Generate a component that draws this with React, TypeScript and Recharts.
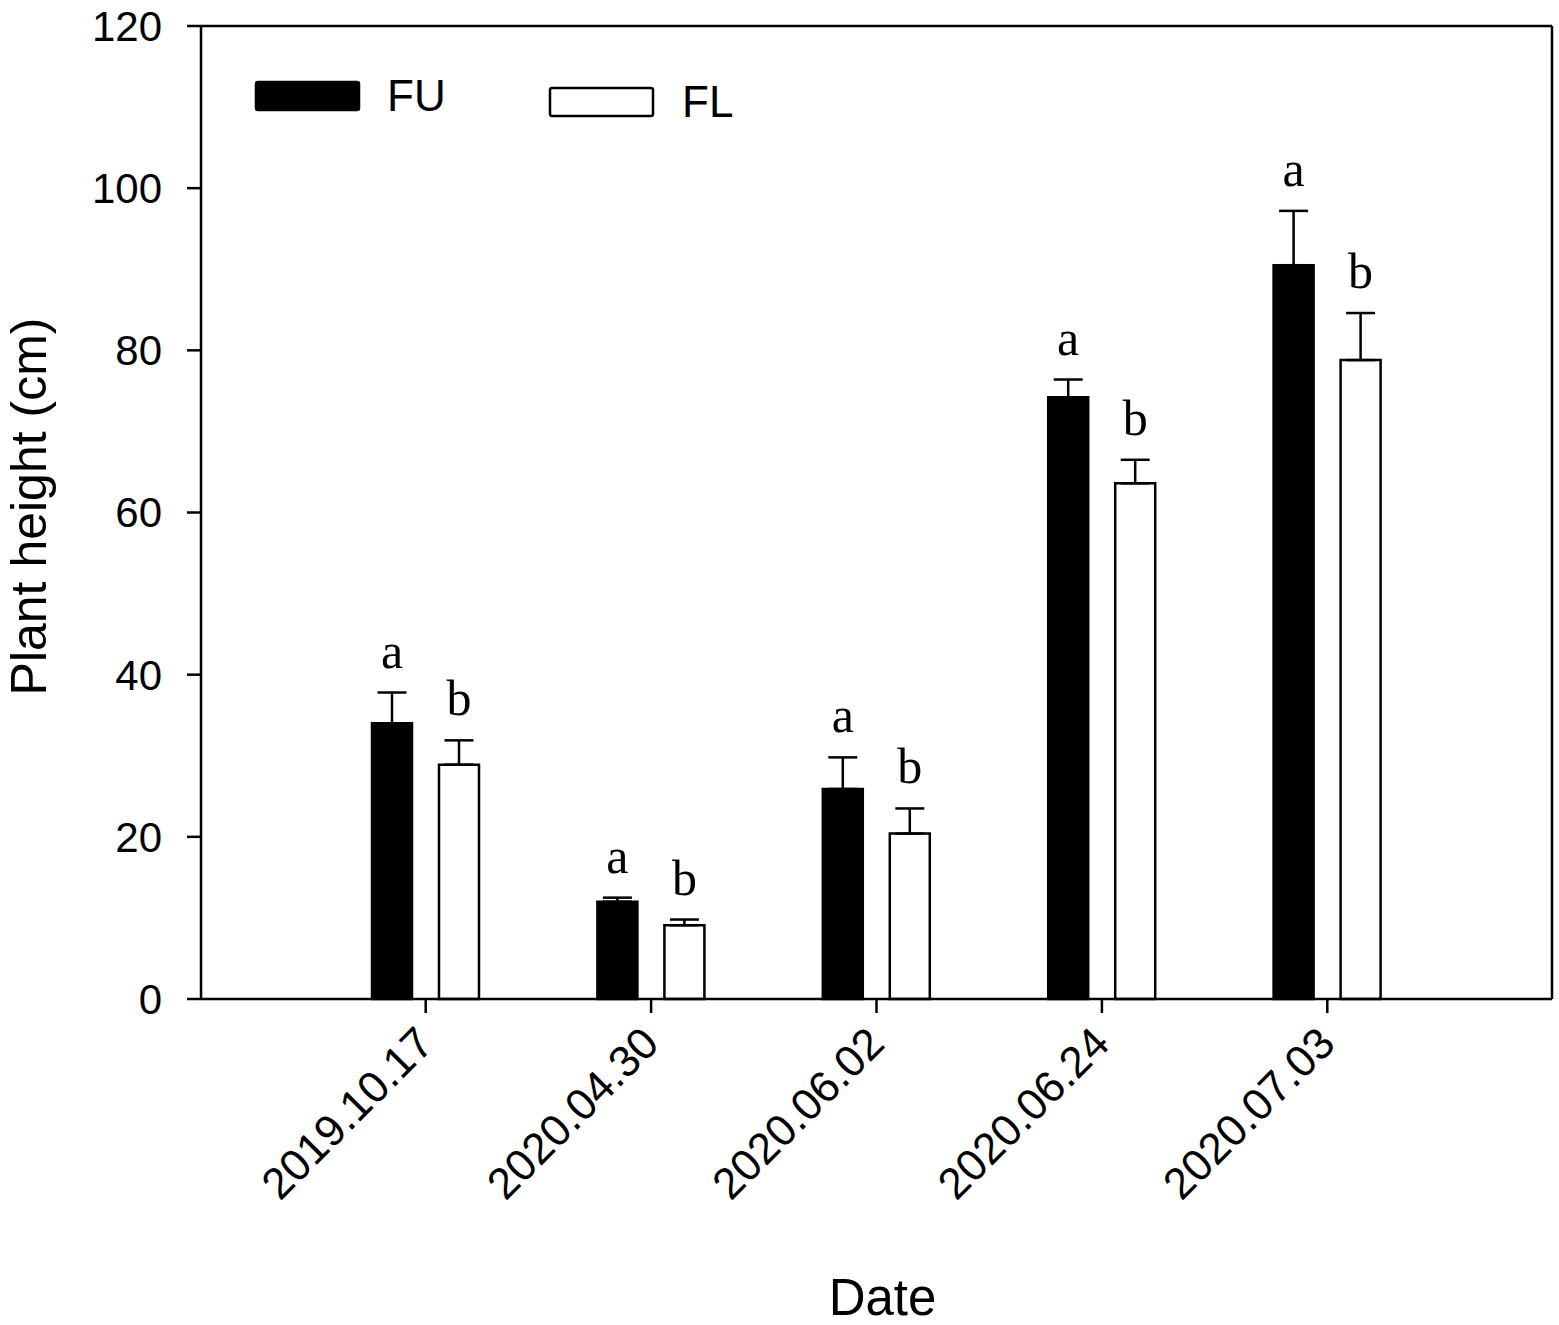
import React from 'react';
import { BarChart, Bar, XAxis, YAxis, ErrorBar, LabelList, Legend, Label } from 'recharts';

// ---- data ----
const DATES = ['2019.10.17', '2020.04.30', '2020.06.02', '2020.06.24', '2020.07.03'];
const FU_MEAN = [34.0, 12.0, 25.9, 74.2, 90.5];
const FU_SE = [3.8, 0.5, 3.9, 2.2, 6.7];
const FU_LETTER = ['a', 'a', 'a', 'a', 'a'];
const FL_MEAN = [28.9, 9.1, 20.4, 63.6, 78.8];
const FL_SE = [3.0, 0.7, 3.1, 2.9, 5.8];
const FL_LETTER = ['b', 'b', 'b', 'b', 'b'];
const Y_TICKS = [0, 20, 40, 60, 80, 100, 120];
const SERIES = ['FU', 'FL'];

const tableData = DATES.map((d, i) => ({
  date: d,
  FU: FU_MEAN[i],
  FL: FL_MEAN[i],
  fuErr: [0, FU_SE[i]],
  flErr: [0, FL_SE[i]],
  fuLetter: FU_LETTER[i],
  flLetter: FL_LETTER[i],
}));

const SANS = '"Liberation Sans", Arial, Helvetica, sans-serif';
const SERIF = '"Liberation Serif", "Times New Roman", serif';

const makeLetter = (values: number[], errs: number[]) => (props: any) => {
  const vb = props.viewBox && props.viewBox.x !== undefined ? props.viewBox : props;
  const { x, y, width, height } = vb;
  const i = props.index;
  if (x === undefined || i === undefined) return null;
  const h = Math.abs(height);
  const top = height < 0 ? y + height : y;
  const pxPerUnit = h / values[i];
  const capY = top - errs[i] * pxPerUnit;
  return (
    <text x={x + width / 2} y={capY - 25} textAnchor="middle" fontFamily={SERIF} fontSize={50} fill="#000">
      {props.value}
    </text>
  );
};

const XTick = (props: any) => {
  const { x, y, payload } = props;
  const ax = x + 10;
  const ay = y + 31;
  return (
    <text x={ax} y={ay} transform={`rotate(-45, ${ax}, ${ay})`} textAnchor="end" fontFamily={SANS} fontSize={44} fill="#000">
      {payload.value}
    </text>
  );
};

const LEGEND_POS: Record<string, { sx: number; sy: number; tx: number; ty: number }> = {
  FU: { sx: 256, sy: 82, tx: 387, ty: 111 },
  FL: { sx: 550, sy: 88, tx: 682, ty: 117 },
};

const renderLegend = (props: any) => {
  const payload = [...(props.payload || [])].sort(
    (a: any, b: any) => SERIES.indexOf(a.value) - SERIES.indexOf(b.value)
  );
  return (
    <svg width={1559} height={140} style={{ display: 'block' }}>
      {payload.map((entry: any, i: number) => {
        const p = LEGEND_POS[entry.value] || LEGEND_POS.FU;
        const fill = entry.payload && entry.payload.fill ? entry.payload.fill : entry.color;
        return (
          <g key={i}>
            <rect x={p.sx} y={p.sy} width={103} height={28} rx={2} fill={fill} stroke="#000" strokeWidth={2.5} />
            <text x={p.tx} y={p.ty} fontFamily={SANS} fontSize={44} fill="#000">
              {entry.value}
            </text>
          </g>
        );
      })}
    </svg>
  );
};

const YTitle = (props: any) => {
  const vb = props.viewBox;
  const cx = vb.x + 46;
  const cy = vb.y + vb.height / 2 - 6;
  return (
    <text x={cx} y={cy} transform={`rotate(-90, ${cx}, ${cy})`} textAnchor="middle" fontFamily={SANS} fontSize={50} fill="#000">
      Plant height (cm)
    </text>
  );
};

const XTitle = (props: any) => {
  const vb = props.viewBox;
  const cx = vb.x + vb.width / 2 + 6;
  const cy = vb.y + 316;
  return (
    <text x={cx} y={cy} textAnchor="middle" fontFamily={SANS} fontSize={51} fill="#000">
      Date
    </text>
  );
};

export default function App() {
  return (
    <div style={{ position: 'absolute', left: 0, top: 0, background: '#fff' }}>
      <BarChart
        width={1559}
        height={1325}
        data={tableData}
        margin={{ top: 25, right: 6, left: 0, bottom: 0 }}
        barSize={40}
        barGap={27}
      >
        <XAxis
          dataKey="date"
          xAxisId="main"
          height={326}
          interval={0}
          padding={{ left: 112, right: 112 }}
          tickSize={14}
          tickLine={{ stroke: '#000', strokeWidth: 2.5 }}
          axisLine={{ stroke: '#000', strokeWidth: 2.5 }}
          tick={<XTick />}
        >
          <Label content={<XTitle />} />
        </XAxis>
        <XAxis
          dataKey="date"
          xAxisId="top"
          orientation="top"
          height={1}
          tick={false}
          tickLine={false}
          axisLine={{ stroke: '#000', strokeWidth: 2.5 }}
        />
        <YAxis
          yAxisId="main"
          domain={[0, 120]}
          ticks={Y_TICKS}
          width={201}
          tickSize={14}
          tickMargin={25}
          tickLine={{ stroke: '#000', strokeWidth: 2.5 }}
          axisLine={{ stroke: '#000', strokeWidth: 2.5 }}
          tick={{ fontSize: 42, fill: '#000', fontFamily: SANS }}
        >
          <Label content={<YTitle />} />
        </YAxis>
        <YAxis
          yAxisId="right"
          orientation="right"
          domain={[0, 120]}
          width={1}
          tick={false}
          tickLine={false}
          axisLine={{ stroke: '#000', strokeWidth: 2.5 }}
        />
        <Legend
          layout="horizontal"
          verticalAlign="middle"
          align="center"
          content={renderLegend}
          wrapperStyle={{ position: 'absolute', left: 0, top: 0, width: 1559, height: 140 }}
        />
        <Bar dataKey="FU" name="FU" xAxisId="main" yAxisId="main" fill="#000" stroke="#000" strokeWidth={2.5} isAnimationActive={false}>
          <ErrorBar dataKey="fuErr" direction="y" width={14.5} stroke="#000" strokeWidth={2.5} isAnimationActive={false} />
          <LabelList dataKey="fuLetter" content={makeLetter(FU_MEAN, FU_SE)} />
        </Bar>
        <Bar dataKey="FL" name="FL" xAxisId="main" yAxisId="main" fill="#fff" stroke="#000" strokeWidth={2.5} isAnimationActive={false}>
          <ErrorBar dataKey="flErr" direction="y" width={14.5} stroke="#000" strokeWidth={2.5} isAnimationActive={false} />
          <LabelList dataKey="flLetter" content={makeLetter(FL_MEAN, FL_SE)} />
        </Bar>
      </BarChart>
    </div>
  );
}
